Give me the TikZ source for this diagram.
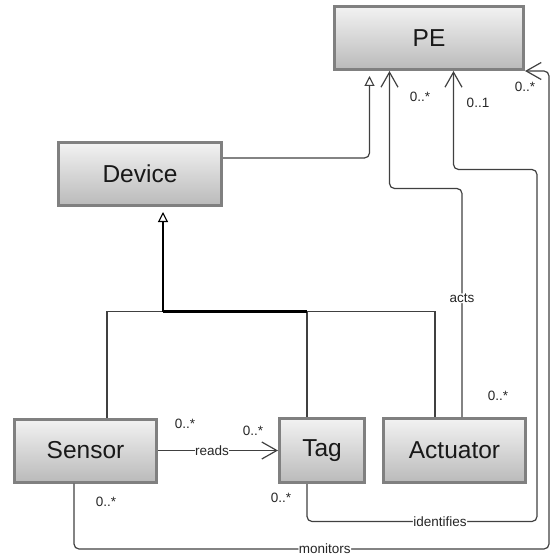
\documentclass[tikz,border=0pt]{standalone}
\usepackage{fontspec}
\setmainfont{Liberation Sans}
\usetikzlibrary{arrows.meta,calc}
\definecolor{conn}{HTML}{404040}
\definecolor{boxedge}{HTML}{808080}
\tikzset{
  cls/.style={draw=boxedge, line width=3pt, top color=black!5, bottom color=black!27,
    inner sep=0pt, minimum height=63pt, font=\fontsize{24.5}{28}\selectfont, text=black!90},
  assoc/.style={draw=conn, line width=1.2pt, rounded corners=5pt,
    -{Straight Barb[length=15pt,width=17pt,line width=1.2pt]}},
  genline/.style={draw=conn, line width=1.2pt},
  gentrunk/.style={draw=black, line width=2.6pt},
  genarrow/.style={-{Triangle[open,length=10pt,width=10pt,line width=1.1pt,fill=white]}},
  lbl/.style={font=\fontsize{13.5}{16}\selectfont, text=black!85, inner sep=1pt},
  lblw/.style={lbl, fill=white, inner sep=0.5pt},
}
\begin{document}
\begin{tikzpicture}[x=1pt,y=-1pt]
\useasboundingbox (0,0) rectangle (553,559);
% classes
\node[cls, minimum width=189pt] (PE) at (429,38) {PE};
\node[cls, minimum width=163pt] (Device) at (140,174) {Device};
\node[cls, minimum width=142pt] (Sensor) at (85.5,450.5) {Sensor};
\node[cls, minimum width=85pt, minimum height=64pt] (Tag) at (322,450.5) {Tag};
\node[cls, minimum width=142pt, minimum height=64pt] (Actuator) at (454.5,450.5) {Actuator};

% generalization Device -> PE
\draw[genline, rounded corners=5pt, genarrow, shorten >=5pt]
  ($(Device.east)+(0,-16)$) -| ($(PE.south west)+(36.5,0)$);

% generalization of Sensor, Tag, Actuator -> Device
\coordinate (J) at ($(Device.south)+(23,104.5)$);
\draw[genline] ($(Sensor.north)+(21.5,0)$) |- (J);
\draw[genline] (J) -| ($(Actuator.north)+(-19.5,0)$);
\draw[genline] (J) -| ($(Tag.north)+(-15,0)$);
\draw[gentrunk] (J) -- ($(J)+(144,0)$);
\draw[gentrunk, genarrow, shorten >=5pt] (J) -- ($(Device.south)+(23,0)$);

% acts
\draw[assoc] ($(Actuator.north)+(7.5,0)$) -- ++(0,-228.5)
  node[lblw, pos=0.52] (actsL) {acts}
  -| ($(PE.south west)+(56.5,0)$);

% identifies
\draw[assoc] ($(Tag.south)+(-15,0)$) -- ++(0,37.5) -- ++(230,0)
  node[lblw, pos=0.578] (idL) {identifies}
  -- ++(0,-352) -| ($(PE.south west)+(120.5,0)$);

% monitors
\draw[assoc] ($(Sensor.south)+(-11.5,0)$) -- ++(0,65.5) -- ++(475,0)
  node[lblw, pos=0.528] (monL) {monitors}
  |- (PE.south east);

% reads
\draw[assoc, rounded corners=0pt] (Sensor.east) -- (Tag.west)
  node[lblw, pos=0.45] (readsL) {reads};

% multiplicities
\node[lbl] (m1) at (420,97) {0..*};
\node[lbl] (m2) at (478,103) {0..1};
\node[lbl] (m3) at (525,87) {0..*};
\node[lbl] (m4) at (498,396) {0..*};
\node[lbl] (m5) at (185,424) {0..*};
\node[lbl] (m6) at (253,431) {0..*};
\node[lbl] (m7) at (106,502) {0..*};
\node[lbl] (m8) at (281,498) {0..*};
\end{tikzpicture}
\end{document}
